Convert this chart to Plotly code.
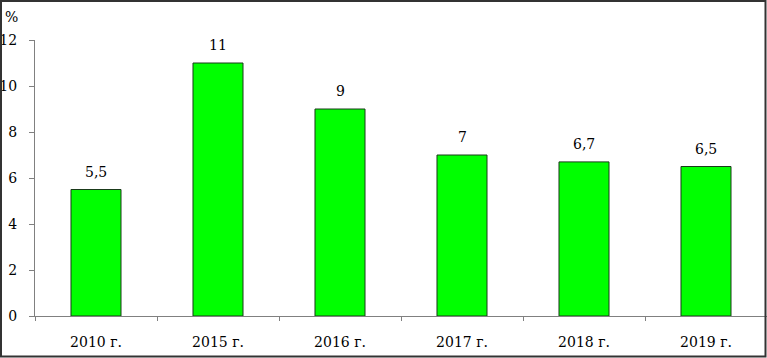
import plotly.graph_objects as go

categories = ["2010 г.", "2015 г.", "2016 г.", "2017 г.", "2018 г.", "2019 г."]
values = [5.5, 11, 9, 7, 6.7, 6.5]
value_labels = ["5,5", "11", "9", "7", "6,7", "6,5"]
y_ticks = [0, 2, 4, 6, 8, 10, 12]

W, H = 767, 358
ml, mr, mt, mb = 35, 0, 40, 42
pw, ph = W - ml - mr, H - mt - mb

font = dict(family="DejaVu Serif", size=14, color="black")

fig = go.Figure()
fig.add_trace(go.Bar(
    x=categories, y=values, width=0.41,
    marker=dict(color="#00ff00", line=dict(color="#1a3a1a", width=1)),
    hoverinfo="skip",
))

for c, v, t in zip(categories, values, value_labels):
    fig.add_annotation(x=c, y=v, text=t, showarrow=False, yanchor="bottom",
                       yshift=8, font=font)

fig.add_annotation(xref="paper", yref="paper", x=(3 - ml) / pw, y=(mt - 17) / ph + 1,
                   text="%", showarrow=False, xanchor="left", yanchor="middle", font=font)

# figure border
fig.add_shape(type="rect", xref="paper", yref="paper",
              x0=(1 - ml) / pw, x1=(765.5 - ml) / pw,
              y0=(mt + ph - 356.5) / ph, y1=(mt + ph - 1) / ph,
              line=dict(color="#333333", width=2))

fig.update_layout(
    width=W, height=H,
    margin=dict(l=ml, r=mr, t=mt, b=mb, pad=0, autoexpand=False),
    paper_bgcolor="white", plot_bgcolor="white",
    showlegend=False, font=font,
)
fig.update_xaxes(
    type="category", showgrid=False, showline=True, linecolor="#808080", linewidth=1,
    ticks="outside", tickson="boundaries", ticklen=4, tickcolor="#808080",
    ticklabelstandoff=13, tickfont=font, range=[-0.5, 5.5], automargin=False,
)
fig.update_yaxes(
    range=[0, 12], tickvals=y_ticks, ticktext=[str(v) for v in y_ticks],
    showgrid=False, zeroline=False, showline=True, linecolor="#808080", linewidth=1,
    ticks="outside", ticklen=5, tickcolor="#808080", ticklabelstandoff=9, tickfont=font,
    automargin=False,
)

fig.write_html("out.html", config={"displayModeBar": False},
               post_script="document.body.style.margin='0';document.body.style.overflow='hidden';")
